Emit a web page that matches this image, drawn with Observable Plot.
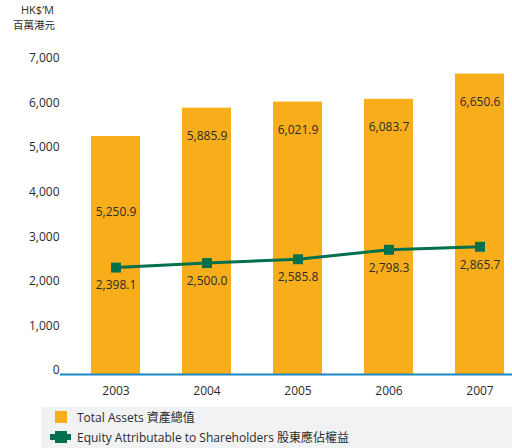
<!DOCTYPE html>
<html>
<head>
<meta charset="utf-8">
<script src="https://cdn.jsdelivr.net/npm/d3@7"></script>
<script src="https://cdn.jsdelivr.net/npm/@observablehq/plot@0.6"></script>
<style>
  html, body { margin: 0; padding: 0; background: #fff; }
  body { width: 512px; height: 448px; overflow: hidden; font-family: "Open Sans", "Noto Sans CJK TC", sans-serif; color: #2b2b2b; }
  #wrap { position: relative; width: 512px; }
  #title { position: absolute; left: 0; top: 0; width: 68px; text-align: center; font-size: 11px; line-height: 15px; color: #2b2b2b; }
  #title .l1 { position: absolute; left: 21px; top: 2px; }
  #title .l2 { position: absolute; left: 13px; top: 17px; font-family: "Noto Sans CJK TC", sans-serif; font-size: 10.5px; }
  #legend { margin-left: 41px; width: 471px; height: 41px; background: #f1f2f4; position: relative; font-size: 12px; }
  .row { position: absolute; left: 0; display: flex; align-items: center; height: 16px; }
  .row span { position: absolute; left: 36px; white-space: nowrap; }
  .cjk { font-family: "Noto Sans CJK TC", sans-serif; }
</style>
</head>
<body>
<div id="wrap">
  <div id="title"><span class="l1">HK$’M</span><span class="l2">百萬港元</span></div>
  <div id="chart"></div>
  <div id="legend">
    <div class="row" style="top:2px;width:471px;">
      <svg width="30" height="16" style="position:absolute;left:0;top:0"><rect x="14" y="2" width="12" height="12" fill="#F8AE1B"/></svg>
      <span>Total Assets <span class="cjk" style="position:static">資產總值</span></span>
    </div>
    <div class="row" style="top:22px;width:471px;">
      <svg width="34" height="16" style="position:absolute;left:0;top:0"><line x1="9" x2="30" y1="8" y2="8" stroke="#00704F" stroke-width="6"/><rect x="14" y="2" width="12" height="12" fill="#00704F"/></svg>
      <span>Equity Attributable to Shareholders <span class="cjk" style="position:static">股東應佔權益</span></span>
    </div>
  </div>
</div>
<script>
const years = ["2003", "2004", "2005", "2006", "2007"];
const totalAssets = [5250.9, 5885.9, 6021.9, 6083.7, 6650.6];
const equity = [2398.1, 2500.0, 2585.8, 2798.3, 2865.7];
const yTicks = [0, 1000, 2000, 3000, 4000, 5000, 6000, 7000];

const data = years.map((year, i) => ({year, total: totalAssets[i], equity: equity[i]}));
const fmt = d3.format(",.1f");
const orange = "#F8AE1B";
const green = "#00704F";
const textColor = "#2b2b2b";

const chart = Plot.plot({
  width: 512,
  height: 407,
  marginLeft: 60,
  marginRight: 0,
  marginTop: 58,
  marginBottom: 37,
  style: {fontFamily: "'Open Sans', sans-serif", fontSize: "12px", color: textColor, background: "transparent"},
  x: {domain: years, range: [68.75, 526.25], paddingInner: 0.465, paddingOuter: 0.2325, label: null},
  y: {domain: [0, 7000], label: null},
  marks: [
    Plot.barY(data, {x: "year", y: "total", fill: orange, insetBottom: -4}),
    Plot.ruleY([0], {stroke: "#1B86C4", strokeWidth: 2, dy: 4}),
    Plot.axisY({ticks: yTicks, tickSize: 0, tickPadding: 1, tickFormat: d3.format(","), fontSize: 12, fill: textColor}),
    Plot.axisX({tickSize: 0, tickPadding: 16, fontSize: 12, fill: textColor}),
    Plot.text(data.filter(d => d.year === "2003"), {x: "year", y: "total", text: d => fmt(d.total), dy: 76, fill: textColor, fontSize: 12}),
    Plot.text(data.filter(d => d.year !== "2003"), {x: "year", y: "total", text: d => fmt(d.total), dy: 28, fill: textColor, fontSize: 12}),
    Plot.line(data, {x: "year", y: "equity", stroke: green, strokeWidth: 3, dy: 4}),
    Plot.dot(data, {x: "year", y: "equity", symbol: "square", r: 5.6, fill: green, dy: 4}),
    Plot.text(data, {x: "year", y: "equity", text: d => fmt(d.equity), dy: 22, fill: textColor, fontSize: 12})
  ]
});
document.getElementById("chart").appendChild(chart);
</script>
</body>
</html>
